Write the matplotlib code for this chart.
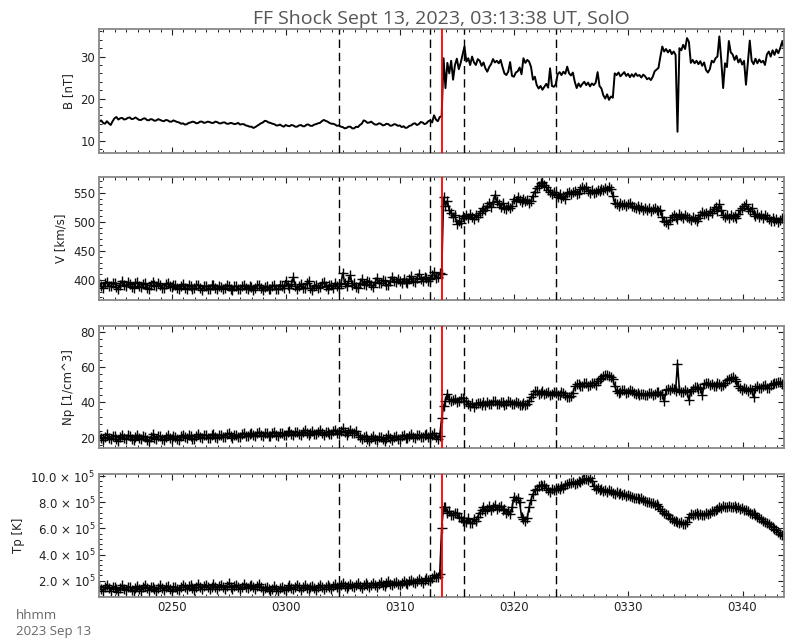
import numpy as np
import matplotlib
matplotlib.use("Agg")
import matplotlib.pyplot as plt
import matplotlib.dates as mdates
from matplotlib.ticker import MultipleLocator, FuncFormatter

# ---------------- data (10 s cadence from 02:43:38 UT) ----------------
start_time = np.datetime64('2023-09-13T02:43:38')
cadence_s = 10
shock_time = np.datetime64('2023-09-13T03:13:38')
dashed_times = [np.datetime64('2023-09-13T03:04:38'), np.datetime64('2023-09-13T03:12:38'),
                np.datetime64('2023-09-13T03:15:38'), np.datetime64('2023-09-13T03:23:38')]

b_nT = [
    14.5, 14.8, 14.2, 14.0, 14.6, 14.1, 13.7, 14.6, 15.3, 15.6, 15.0, 15.3, 15.4, 15.0, 15.1, 15.4, 15.5, 15.1, 15.2, 15.5,
    15.2, 14.9, 14.9, 15.2, 15.3, 14.9, 14.8, 15.1, 15.0, 14.7, 14.8, 15.1, 14.9, 14.7, 14.6, 14.9, 14.8, 14.5, 14.5, 14.8,
    14.6, 14.4, 14.3, 14.0, 14.1, 13.8, 13.9, 14.2, 14.3, 14.5, 14.4, 14.1, 14.2, 14.5, 14.5, 14.2, 14.3, 14.5, 14.4, 14.2,
    14.2, 14.5, 14.4, 14.1, 14.1, 14.3, 14.3, 14.0, 14.0, 14.2, 14.1, 13.9, 14.0, 14.2, 13.8, 13.9, 13.9, 13.6, 13.5, 13.3,
    13.3, 13.0, 13.2, 13.5, 13.8, 14.1, 14.3, 14.7, 14.6, 14.3, 14.2, 14.0, 13.9, 13.6, 13.6, 13.8, 13.5, 13.3, 13.7, 13.5,
    13.4, 13.7, 13.6, 13.3, 13.3, 13.6, 13.7, 13.4, 13.4, 13.8, 13.8, 13.5, 13.5, 13.8, 13.9, 14.1, 14.2, 14.6, 14.9, 14.7,
    14.5, 14.2, 14.0, 14.0, 13.8, 13.5, 13.6, 13.3, 13.2, 12.9, 13.0, 13.3, 13.3, 12.9, 12.9, 13.3, 13.2, 13.7, 14.0, 14.8,
    14.6, 14.2, 14.3, 14.5, 14.1, 13.8, 13.8, 14.1, 14.0, 13.6, 13.7, 14.0, 13.9, 13.5, 13.6, 13.9, 13.8, 13.5, 13.6, 13.2,
    13.4, 13.0, 13.1, 13.5, 13.6, 14.0, 14.1, 13.7, 13.9, 14.4, 14.3, 13.9, 14.1, 14.6, 14.8, 14.3, 16.0, 15.0, 14.6, 15.6,
    15.8, 29.6, 22.5, 28.5, 26.0, 29.0, 24.5, 28.0, 29.5, 27.0, 28.5, 30.5, 32.4, 28.8, 29.6, 28.0, 30.0, 28.6, 28.0, 29.4,
    29.0, 27.8, 28.6, 27.2, 26.4, 27.5, 28.2, 29.4, 28.6, 29.0, 28.4, 29.2, 27.5, 26.0, 25.6, 26.4, 28.7, 25.4, 25.2, 26.2,
    26.5, 27.4, 25.8, 29.6, 28.5, 29.2, 28.8, 27.5, 24.5, 25.2, 23.2, 22.4, 23.0, 22.1, 22.8, 23.5, 22.6, 27.2, 23.0, 22.8,
    23.4, 25.8, 26.3, 25.6, 26.4, 25.9, 27.6, 26.0, 25.5, 26.2, 24.0, 22.5, 23.6, 22.8, 23.5, 24.0, 23.2, 23.8, 22.9, 23.6,
    23.2, 23.8, 26.3, 23.0, 22.4, 20.8, 20.0, 21.0, 19.7, 20.5, 20.2, 26.0, 25.6, 26.2, 25.3, 25.8, 26.3, 25.4, 25.9, 25.1,
    25.8, 25.2, 26.0, 25.4, 25.6, 25.0, 25.7, 25.3, 24.6, 24.9, 24.4, 25.2, 26.5, 26.9, 27.3, 30.0, 32.4, 31.2, 31.8, 31.0,
    31.6, 30.6, 31.2, 30.4, 12.1, 32.0, 31.5, 32.8, 31.8, 34.4, 33.5, 28.5, 29.2, 28.4, 29.0, 28.2, 28.9, 27.8, 28.6, 26.8,
    26.2, 27.0, 29.0, 28.6, 29.6, 30.0, 34.8, 29.2, 22.5, 28.4, 27.5, 33.7, 31.0, 30.5, 29.2, 30.2, 28.6, 29.4, 28.1, 29.0,
    23.3, 28.5, 33.8, 29.0, 28.2, 29.5, 28.4, 29.3, 28.6, 29.0, 28.0, 30.5, 31.2, 30.0, 31.5, 30.4, 31.7, 30.8, 32.0, 33.5,
    32.0]

v_kms = [
    394, 389, 386, 395, 397, 390, 389, 394, 395, 388, 385, 392, 398, 391, 390, 396, 393, 388, 387, 394,
    396, 390, 388, 393, 394, 387, 385, 392, 397, 391, 389, 394, 392, 386, 386, 393, 395, 389, 388, 392,
    391, 387, 385, 390, 393, 386, 384, 391, 390, 385, 386, 392, 392, 386, 383, 390, 389, 384, 385, 391,
    391, 386, 384, 389, 388, 384, 386, 391, 390, 385, 383, 389, 389, 384, 385, 390, 391, 386, 384, 389,
    388, 383, 386, 391, 392, 386, 382, 388, 389, 384, 385, 390, 391, 385, 384, 392, 390, 386, 399, 392,
    387, 393, 405, 390, 384, 389, 393, 386, 386, 394, 398, 387, 383, 389, 392, 386, 388, 395, 396, 389,
    385, 391, 391, 386, 395, 390, 387, 393, 412, 395, 389, 398, 408, 392, 394, 388, 386, 394, 401, 393,
    392, 399, 397, 392, 388, 396, 403, 395, 394, 400, 398, 392, 391, 399, 405, 398, 396, 402, 399, 394,
    402, 396, 394, 401, 406, 398, 397, 404, 410, 401, 398, 405, 404, 399, 401, 409, 413, 404, 405, 412,
    410, 542, 528, 536, 520, 515, 508, 512, 496, 502, 498, 510, 506, 512, 507, 513, 508, 505, 511, 509,
    515, 519, 524, 520, 528, 532, 526, 534, 546, 536, 530, 526, 532, 524, 522, 528, 523, 527, 540, 536,
    543, 537, 534, 540, 536, 538, 533, 536, 545, 552, 558, 562, 566, 569, 564, 560, 555, 552, 548, 551,
    546, 543, 548, 541, 545, 540, 549, 552, 547, 551, 553, 548, 550, 556, 559, 557, 560, 553, 550, 554,
    549, 552, 555, 553, 557, 554, 558, 555, 560, 556, 545, 533, 531, 528, 532, 529, 531, 527, 530, 532,
    528, 526, 524, 527, 522, 525, 521, 524, 520, 523, 519, 522, 524, 520, 518, 521, 508, 502, 500, 497,
    503, 508, 512, 509, 505, 513, 510, 507, 512, 509, 506, 503, 508, 505, 502, 506, 512, 516, 513, 515,
    511, 518, 515, 522, 526, 519, 530, 521, 512, 508, 511, 507, 512, 509, 510, 506, 513, 520, 524, 527,
    531, 522, 518, 524, 514, 510, 513, 508, 511, 506, 512, 509, 505, 502, 507, 501, 504, 499, 503, 506,
    504]

np_cm3 = [
    21.5, 19.8, 18.5, 20.6, 22.0, 20.1, 19.0, 21.2, 21.0, 19.4, 18.0, 20.5, 21.8, 19.9, 19.2, 21.4, 20.8, 19.1, 18.6, 20.3,
    21.6, 19.7, 19.0, 20.8, 20.5, 18.9, 18.4, 20.2, 21.9, 20.0, 19.3, 21.0, 20.7, 19.2, 18.8, 20.6, 21.5, 19.8, 19.5, 21.1,
    20.2, 19.0, 18.9, 20.7, 21.8, 20.2, 19.6, 21.3, 20.9, 19.5, 19.4, 21.2, 22.0, 20.4, 19.8, 21.6, 21.5, 20.1, 20.0, 21.7,
    22.3, 20.6, 19.9, 21.5, 21.6, 20.2, 20.3, 21.9, 22.4, 20.8, 20.1, 21.7, 21.7, 20.4, 20.6, 22.2, 22.6, 21.0, 20.8, 22.1,
    22.9, 21.3, 21.0, 22.5, 23.2, 21.6, 20.9, 22.4, 22.6, 21.1, 21.2, 22.8, 23.4, 21.8, 21.1, 22.7, 22.8, 21.4, 21.6, 23.0,
    24.0, 22.3, 21.6, 23.1, 23.5, 22.0, 21.8, 23.2, 24.2, 22.5, 21.4, 22.9, 23.6, 22.1, 22.0, 23.5, 24.1, 22.4, 21.5, 23.0,
    23.4, 22.0, 21.9, 23.6, 24.5, 22.8, 22.3, 23.8, 25.3, 23.1, 21.8, 23.4, 24.6, 22.6, 22.5, 23.9, 21.5, 20.4, 19.0, 20.6,
    20.8, 19.3, 18.2, 19.9, 21.1, 19.5, 18.6, 20.2, 20.4, 19.0, 18.0, 19.7, 21.3, 19.8, 18.9, 20.5, 20.9, 19.4, 19.2, 20.8,
    21.5, 20.1, 19.6, 21.2, 22.0, 20.4, 19.8, 21.4, 21.6, 20.3, 20.2, 21.7, 22.2, 20.6, 20.0, 21.8, 22.6, 20.5, 19.4, 21.2,
    31.0, 37.8, 41.0, 44.8, 42.0, 40.6, 41.6, 42.0, 40.2, 40.8, 42.6, 42.3, 40.9, 40.5, 38.8, 38.2, 39.4, 37.5, 38.9, 39.8,
    39.8, 38.6, 40.4, 38.6, 40.2, 39.1, 39.0, 40.5, 40.5, 39.2, 38.8, 40.1, 40.0, 38.7, 39.2, 40.6, 40.3, 39.0, 38.9, 40.2,
    39.9, 38.5, 38.6, 39.8, 38.3, 38.8, 41.0, 43.0, 44.5, 46.2, 46.5, 45.0, 45.2, 46.4, 44.6, 45.5, 45.8, 44.3, 44.9, 46.0,
    45.5, 44.2, 44.2, 45.8, 45.4, 44.0, 43.2, 43.0, 43.8, 45.5, 49.0, 50.4, 50.5, 49.0, 49.4, 50.9, 50.8, 49.2, 49.6, 51.0,
    51.2, 50.0, 52.0, 53.2, 54.0, 54.8, 55.4, 55.6, 55.0, 54.4, 53.0, 49.0, 46.5, 45.4, 45.6, 47.0, 46.8, 45.5, 45.8, 46.9,
    46.4, 45.2, 44.6, 45.3, 44.0, 44.8, 45.0, 43.9, 44.2, 45.4, 45.2, 44.1, 44.5, 45.7, 45.6, 44.3, 44.8, 40.5, 46.8, 47.4,
    46.8, 47.9, 47.5, 46.6, 62.0, 47.2, 46.1, 46.0, 47.0, 45.8, 41.4, 46.5, 47.5, 48.6, 48.5, 47.6, 48.3, 44.0, 50.5, 51.0,
    51.2, 50.0, 50.2, 49.4, 49.5, 50.8, 50.4, 49.2, 49.8, 51.2, 52.6, 53.5, 53.8, 54.2, 53.2, 52.0, 49.5, 48.0, 47.2, 48.4,
    47.8, 46.5, 47.6, 46.8, 43.0, 48.2, 49.0, 47.9, 48.2, 49.5, 49.6, 48.3, 48.4, 50.1, 50.2, 51.0, 50.8, 51.5, 51.5, 50.6,
    49.4]

tp_1e5K = [
    1.60, 1.40, 1.20, 1.50, 1.70, 1.45, 1.25, 1.55, 1.55, 1.35, 1.15, 1.45, 1.65, 1.40, 1.30, 1.55, 1.50, 1.30, 1.20, 1.45,
    1.60, 1.40, 1.25, 1.50, 1.70, 1.45, 1.30, 1.55, 1.55, 1.35, 1.20, 1.45, 1.65, 1.45, 1.30, 1.55, 1.60, 1.40, 1.25, 1.50,
    1.55, 1.40, 1.30, 1.55, 1.70, 1.50, 1.35, 1.60, 1.65, 1.45, 1.30, 1.55, 1.75, 1.50, 1.40, 1.60, 1.70, 1.50, 1.35, 1.55,
    1.75, 1.55, 1.40, 1.60, 1.70, 1.50, 1.35, 1.60, 1.80, 1.55, 1.40, 1.60, 1.70, 1.50, 1.35, 1.55, 1.75, 1.55, 1.45, 1.60,
    1.70, 1.50, 1.40, 1.60, 1.75, 1.50, 1.30, 1.45, 1.55, 1.35, 1.20, 1.40, 1.60, 1.40, 1.25, 1.45, 1.55, 1.40, 1.30, 1.50,
    1.65, 1.45, 1.35, 1.55, 1.70, 1.50, 1.30, 1.50, 1.65, 1.45, 1.35, 1.50, 1.60, 1.45, 1.30, 1.50, 1.70, 1.50, 1.35, 1.55,
    1.65, 1.50, 1.40, 1.60, 1.75, 1.55, 1.45, 1.65, 1.80, 1.60, 1.45, 1.60, 1.75, 1.60, 1.50, 1.65, 1.80, 1.60, 1.45, 1.65,
    1.80, 1.65, 1.50, 1.70, 1.85, 1.65, 1.55, 1.75, 1.90, 1.70, 1.60, 1.80, 1.95, 1.75, 1.65, 1.80, 1.90, 1.75, 1.70, 1.85,
    2.00, 1.85, 1.75, 1.95, 2.05, 1.90, 1.80, 1.95, 2.10, 1.95, 1.85, 2.05, 2.20, 2.05, 2.00, 2.20, 2.40, 2.30, 2.25, 2.50,
    6.00, 7.65, 7.60, 7.20, 7.30, 7.00, 7.00, 7.20, 7.20, 6.90, 6.80, 6.60, 6.60, 6.50, 6.80, 6.40, 6.40, 6.70, 6.60, 6.90,
    7.20, 7.40, 7.60, 7.30, 7.50, 7.70, 7.40, 7.60, 7.80, 7.50, 7.60, 7.70, 7.40, 7.50, 7.20, 7.30, 7.10, 7.60, 8.40, 8.20,
    8.30, 8.00, 6.90, 6.70, 6.60, 6.80, 7.60, 8.20, 8.60, 8.90, 9.00, 9.20, 9.30, 9.20, 9.35, 9.10, 8.90, 8.80, 9.00, 8.90,
    8.90, 9.10, 9.00, 9.20, 9.10, 9.30, 9.40, 9.50, 9.45, 9.55, 9.40, 9.50, 9.60, 9.55, 9.70, 9.80, 9.75, 9.70, 9.85, 9.60,
    9.20, 9.00, 9.10, 8.90, 9.00, 8.85, 8.90, 8.80, 8.95, 8.85, 8.70, 8.60, 8.75, 8.60, 8.70, 8.55, 8.60, 8.50, 8.55, 8.45,
    8.40, 8.35, 8.30, 8.30, 8.25, 8.30, 8.20, 8.10, 8.00, 8.05, 7.90, 7.95, 7.80, 7.85, 7.70, 7.50, 7.30, 7.20, 7.10, 7.00,
    6.80, 6.70, 6.60, 6.60, 6.50, 6.40, 6.45, 6.35, 6.30, 6.50, 6.90, 7.10, 7.00, 7.10, 7.20, 7.00, 7.10, 7.05, 7.00, 7.15,
    7.10, 7.20, 7.30, 7.35, 7.40, 7.50, 7.60, 7.55, 7.70, 7.65, 7.60, 7.70, 7.65, 7.60, 7.70, 7.55, 7.60, 7.50, 7.55, 7.40,
    7.40, 7.30, 7.20, 7.10, 7.15, 7.00, 6.90, 6.80, 6.70, 6.60, 6.50, 6.40, 6.30, 6.20, 6.10, 5.95, 5.85, 5.70, 5.60, 5.50,
    5.40]

ylabels = ['B [nT]', 'V [km/s]', 'Np [1/cm^3]', 'Tp [K]']
title_text = 'FF Shock Sept 13, 2023, 03:13:38 UT, SolO'

# ---------------- figure ----------------
W, H = 785, 638
fig = plt.figure(figsize=(W / 100, H / 100), dpi=100)
plt.rcParams['font.family'] = ['DejaVu Sans']

panel_px = [(29.3, 152.7), (177.3, 300.0), (325.7, 448.3), (474.3, 596.7)]
left_px, right_px = 99.3, 784.0


def to_num(dt64):
    return mdates.date2num(np.asarray(dt64).astype('datetime64[s]').astype(object))


t0 = to_num(start_time)
t1 = to_num(start_time + np.timedelta64(60, 'm'))

series = [np.array(b_nT), np.array(v_kms), np.array(np_cm3), np.array(tp_1e5K) * 1e5]
ylims = [(7.1, 36.5), (365.6, 576.5), (14.0, 83.4), (0.78e5, 10.13e5)]
majors = [10, 50, 20, 2e5]
minors = [2, 10, 4, 0.4e5]

axes = []
for k, (top, bot) in enumerate(panel_px):
    ax = fig.add_axes([left_px / W, 1 - bot / H, (right_px - left_px) / W, (bot - top) / H])
    axes.append(ax)
    y = series[k]
    times = start_time + np.arange(len(y)) * np.timedelta64(cadence_s, 's')
    tnum = to_num(times)
    if k == 0:
        ax.plot(tnum, y, color='black', lw=1.4, zorder=2)
    else:
        ax.plot(tnum, y, color='black', lw=1.2, marker='+', ms=6.5, mew=1.0, zorder=2)
    for dt in dashed_times:
        ax.axvline(to_num(dt), color='black', lw=1.0, dashes=(6, 3.5), zorder=3)
    ax.axvline(to_num(shock_time), color='red', lw=1.3, zorder=4)
    ax.set_xlim(t0, t1)
    ax.set_ylim(*ylims[k])
    ax.yaxis.set_major_locator(MultipleLocator(majors[k]))
    ax.yaxis.set_minor_locator(MultipleLocator(minors[k]))
    ax.xaxis.set_major_locator(mdates.MinuteLocator(byminute=range(0, 60, 10)))
    ax.xaxis.set_minor_locator(mdates.MinuteLocator())
    ax.xaxis.set_major_formatter(mdates.DateFormatter('%H%M'))
    ax.tick_params(which='both', direction='in', top=True, right=True, color='#222222')
    ax.tick_params(which='major', length=4.5, width=0.8, labelsize=8.5, pad=3,
                   labelcolor='#222222')
    ax.tick_params(which='minor', length=2.5, width=0.7)
    for sp in ax.spines.values():
        sp.set_color('#888888')
        sp.set_linewidth(1.3)
    ax.set_ylabel(ylabels[k], fontsize=8.5, color='#222222', labelpad=4)
    if k < 3:
        ax.tick_params(labelbottom=False)

axes[3].yaxis.set_major_formatter(FuncFormatter(lambda v, p: '%.1f × 10$^{5}$' % (v / 1e5)))

axes[0].set_title(title_text, fontsize=14, color='#555555', pad=4,
                  family=['Open Sans', 'DejaVu Sans'])

fig.text(16 / W, 1 - 619 / H, 'hhmm', fontsize=9.5, color='#666666',
         family=['Open Sans', 'DejaVu Sans'], va='baseline')
fig.text(16 / W, 1 - 635 / H, '2023 Sep 13', fontsize=9.5, color='#666666',
         family=['Open Sans', 'DejaVu Sans'], va='baseline')

fig.savefig('out.png', dpi=100)
